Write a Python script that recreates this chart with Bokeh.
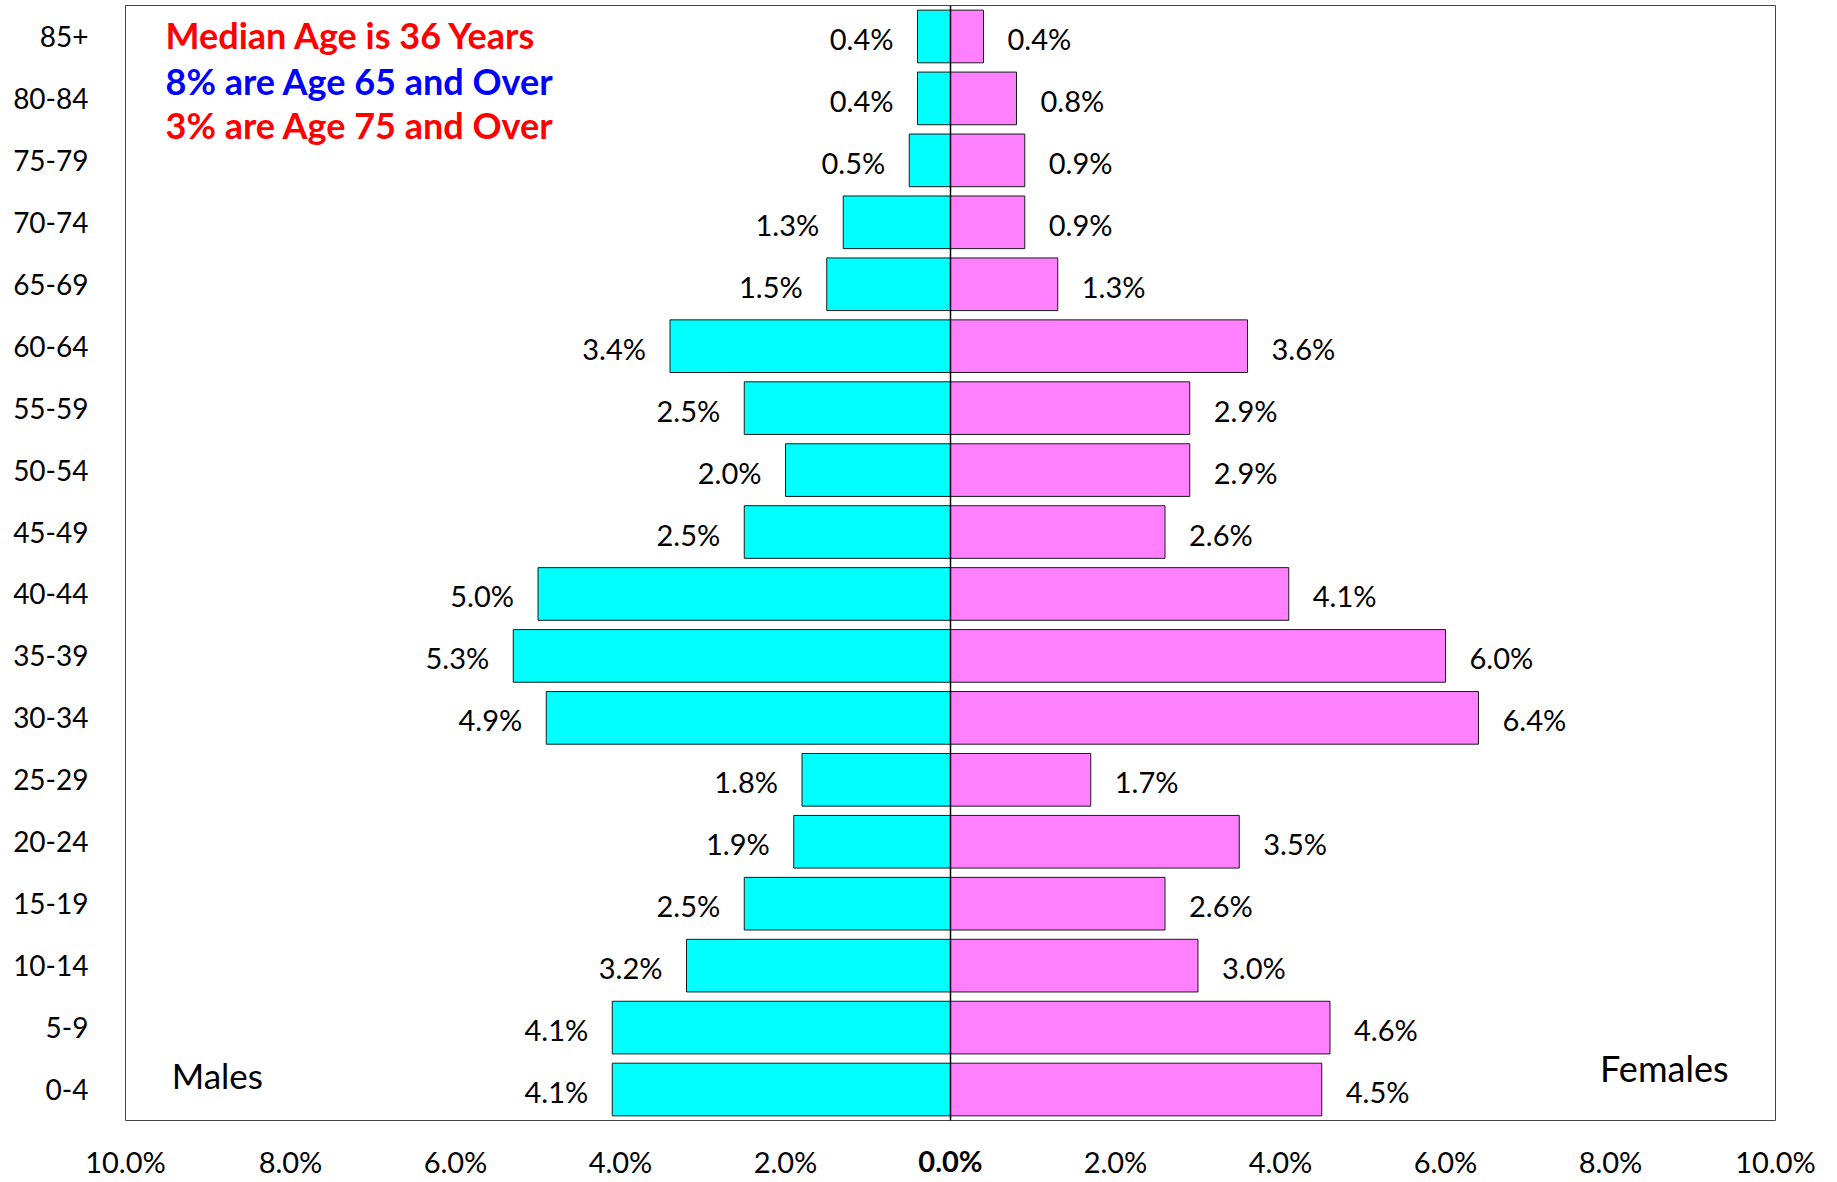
from bokeh.plotting import figure
from bokeh.models import ColumnDataSource, FactorRange, Range1d, FixedTicker, Span, LinearAxis
from bokeh.core.properties import value
from bokeh.embed import file_html
from bokeh.resources import INLINE

ages = ["85+", "80-84", "75-79", "70-74", "65-69", "60-64", "55-59", "50-54", "45-49",
        "40-44", "35-39", "30-34", "25-29", "20-24", "15-19", "10-14", "5-9", "0-4"]
males = [0.4, 0.4, 0.5, 1.3, 1.5, 3.4, 2.5, 2.0, 2.5, 5.0, 5.3, 4.9, 1.8, 1.9, 2.5, 3.2, 4.1, 4.1]
females = [0.4, 0.8, 0.9, 0.9, 1.3, 3.6, 2.9, 2.9, 2.6, 4.1, 6.0, 6.4, 1.7, 3.5, 2.6, 3.0, 4.6, 4.5]
x_ticks = [-10, -8, -6, -4, -2, 0, 2, 4, 6, 8, 10]
notes = ["Median Age is 36 Years", "8% are Age 65 and Over", "3% are Age 75 and Over"]
note_colors = ["#FF0000", "#0000FF", "#FF0000"]

FONT = "Lato"
LAB = "29px"

src = ColumnDataSource(dict(
    age=ages,
    m=[-v for v in males],
    f=females,
    mlab=[f"{v:.1f}%" for v in males],
    flab=[f"{v:.1f}%" for v in females],
))

p = figure(width=1830, height=1182, output_backend="svg", toolbar_location=None,
           y_range=FactorRange(*reversed(ages)), x_range=Range1d(-10, 10),
           min_border_top=5, min_border_bottom=62, min_border_left=125, min_border_right=55)

p.hbar(y="age", left="m", right=0, height=0.85, source=src,
       fill_color="#00FFFF", line_color="#1a1a1a", line_width=1)
p.hbar(y="age", left=0, right="f", height=0.85, source=src,
       fill_color="#FF80FF", line_color="#1a1a1a", line_width=1)

p.add_layout(Span(location=0, dimension="height", line_color="black", line_width=1.5))

p.text(x="m", y="age", text="mlab", source=src, text_align="right", text_baseline="middle",
       x_offset=-24, y_offset=2, text_font=value(FONT), text_font_size=LAB, text_color="black")
p.text(x="f", y="age", text="flab", source=src, text_align="left", text_baseline="middle",
       x_offset=24, y_offset=2, text_font=value(FONT), text_font_size=LAB, text_color="black")

note_src = ColumnDataSource(dict(x=[-9.515] * 3, y=ages[:3], t=notes, c=note_colors,
                                 off=[-1, -17, -35]))
p.text(x="x", y="y", text="t", text_color="c", y_offset="off", source=note_src,
       text_align="left", text_baseline="middle", text_font=value(FONT),
       text_font_size="36px", text_font_style="bold")

p.text(x=[-9.44], y=["0-4"], text=["Males"], y_offset=-15, text_align="left",
       text_baseline="middle", text_font=value(FONT), text_font_size="35px", text_color="black")
p.text(x=[9.43], y=["0-4"], text=["Females"], y_offset=-22, text_align="right",
       text_baseline="middle", text_font=value(FONT), text_font_size="36px", text_color="black")

p.xgrid.visible = False
p.ygrid.visible = False
p.outline_line_color = "#444444"
p.outline_line_width = 1

ax = p.below[0]
ax.ticker = FixedTicker(ticks=[t for t in x_ticks if t != 0])
ax.major_label_overrides = {t: f"{abs(t):.1f}%" for t in x_ticks if t != 0}
ax.axis_line_color = None
ax.major_tick_line_color = None
ax.minor_tick_line_color = None
ax.major_label_standoff = 17
ax.major_label_text_font = FONT
ax.major_label_text_font_size = LAB
ax.major_label_text_color = "black"

ax0 = LinearAxis(ticker=FixedTicker(ticks=[0]), major_label_overrides={0: "0.0%"},
                 axis_line_color=None, major_tick_line_color=None, minor_tick_line_color=None,
                 major_label_standoff=-45, major_label_text_font=FONT,
                 major_label_text_font_size=LAB, major_label_text_font_style="bold",
                 major_label_text_color="black")
p.add_layout(ax0, "below")

p.yaxis.axis_line_color = None
p.yaxis.major_tick_line_color = None
p.yaxis.minor_tick_line_color = None
p.yaxis.major_label_standoff = 31
p.yaxis.major_label_text_font = FONT
p.yaxis.major_label_text_font_size = "28px"
p.yaxis.major_label_text_color = "black"

open("out.html", "w").write(file_html(p, INLINE))
